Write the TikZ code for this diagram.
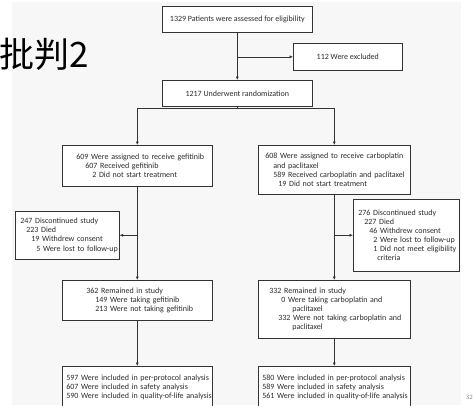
\documentclass[tikz,border=0pt]{standalone}
\usepackage{fontspec}
\setmainfont{Carlito}
\newfontfamily\cjkfont{Noto Sans CJK SC}
\usetikzlibrary{arrows.meta}
\definecolor{slidebg}{HTML}{F7F7F7}
\definecolor{flowline}{HTML}{333333}
\definecolor{flowtext}{HTML}{2B2B2B}
% one unbreakable line of a box, indented by #1 pt
\newcommand{\entry}[2]{\mbox{\hspace{#1pt}#2}}

\begin{document}
\begin{tikzpicture}[x=1pt, y=-1pt,
  >={Latex[length=3.5pt,width=3pt]},
  box/.style={draw=flowline, line width=0.6pt, fill=white, text=flowtext,
    font=\fontsize{8}{9.1}\selectfont, inner xsep=0pt, inner ysep=2pt,
    anchor=north west},
  cbox/.style={box, align=center},
  lbox/.style={box, align=left},
  flow/.style={draw=flowline, line width=0.6pt}]
  \useasboundingbox (0,0) rectangle (473,405);
  % slide background, title and page number
  \fill[slidebg] (12,2) rectangle (461,405);
  \node[anchor=west, inner sep=0pt, font=\cjkfont\fontsize{35}{35}\selectfont]
    (title) at (-1,54) {批判2};
  \node[anchor=east, inner sep=0pt, text=gray,
    font=\sffamily\fontsize{6.5}{7}\selectfont] (pageno) at (473,397) {32};

  % enrollment
  \node[cbox, minimum width=150pt, minimum height=26pt] (assessed) at (162,6)
    {1329 Patients were assessed for eligibility};
  \node[cbox, minimum width=109pt, minimum height=27pt] (excluded) at (293,43)
    {112 Were excluded};
  \node[cbox, minimum width=150pt, minimum height=26pt] (randomized) at (162,80)
    {1217 Underwent randomization};

  % allocation
  \node[lbox, text width=150pt, minimum height=41pt] (gefAssign) at (62,145)
    {\entry{14}{609 Were assigned to receive gefitinib}\\
     \entry{23}{607 Received gefitinib}\\
     \entry{30}{2 Did not start treatment}};
  \node[lbox, text width=152pt, minimum height=49pt] (carboAssign) at (258,145)
    {\entry{7}{608 Were assigned to receive carboplatin}\\
     \entry{15}{and paclitaxel}\\
     \entry{15}{589 Received carboplatin and paclitaxel}\\
     \entry{20}{19 Did not start treatment}};

  % follow-up
  \node[lbox, text width=104pt, minimum height=48pt] (gefStop) at (15,211)
    {\entry{5}{247 Discontinued study}\\
     \entry{11}{223 Died}\\
     \entry{16}{19 Withdrew consent}\\
     \entry{21}{5 Were lost to follow-up}};
  \node[lbox, text width=106pt, minimum height=72pt] (carboStop) at (353,199)
    {\entry{5}{276 Discontinued study}\\
     \entry{11}{227 Died}\\
     \entry{16}{46 Withdrew consent}\\
     \entry{20}{2 Were lost to follow-up}\\
     \entry{20}{1 Did not meet eligibility}\\
     \entry{24}{criteria}};
  \node[lbox, text width=150pt, minimum height=40pt] (gefRemain) at (62,280)
    {\entry{24}{362 Remained in study}\\
     \entry{33}{149 Were taking gefitinib}\\
     \entry{33}{213 Were not taking gefitinib}};
  \node[lbox, text width=152pt, minimum height=58pt] (carboRemain) at (258,280)
    {\entry{11}{332 Remained in study}\\
     \entry{23}{0 Were taking carboplatin and}\\
     \entry{34}{paclitaxel}\\
     \entry{20}{332 Were not taking carboplatin and}\\
     \entry{34}{paclitaxel}};

  % analysis
  \node[lbox, text width=150pt, minimum height=42pt] (gefAnalysis) at (62,366)
    {\entry{4}{597 Were included in per-protocol analysis}\\
     \entry{4}{607 Were included in safety analysis}\\
     \entry{4}{590 Were included in quality-of-life analysis}};
  \node[lbox, text width=152pt, minimum height=42pt] (carboAnalysis) at (258,366)
    {\entry{4}{580 Were included in per-protocol analysis}\\
     \entry{4}{589 Were included in safety analysis}\\
     \entry{4}{561 Were included in quality-of-life analysis}};

  % connectors
  \draw[flow, ->] (assessed) -- (randomized);
  \draw[flow, ->] (assessed.south |- excluded.west) -- (excluded);
  \draw[flow] (randomized) -- ++(0,15) coordinate (fork);
  \draw[flow, ->] (fork) -| (gefAssign);
  \draw[flow, ->] (fork) -| (carboAssign);
  \draw[flow, ->] (gefAssign) -- (gefRemain);
  \draw[flow, ->] (gefAssign.south |- gefStop.east) -- (gefStop);
  \draw[flow, ->] (carboAssign) -- (carboRemain);
  \draw[flow, ->] (carboAssign.south |- carboStop.west) -- (carboStop);
  \draw[flow, ->] (gefRemain) -- (gefAnalysis);
  \draw[flow, ->] (carboRemain) -- (carboAnalysis);
\end{tikzpicture}
\end{document}
